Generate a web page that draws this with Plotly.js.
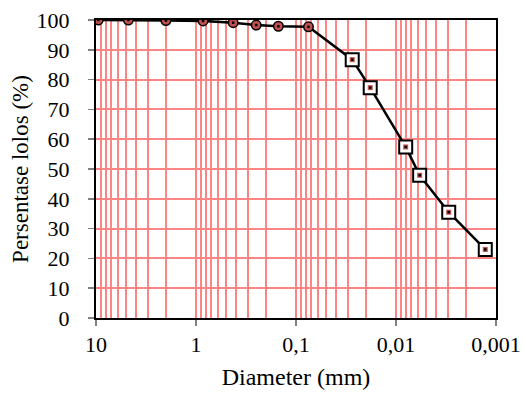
<!DOCTYPE html>
<html>
<head>
<meta charset="utf-8">
<script src="https://cdn.plot.ly/plotly-3.0.1.min.js"></script>
<style>html,body{margin:0;padding:0;background:#fff;}#chart{width:524px;height:394px;}</style>
</head>
<body>
<div id="chart"></div>
<script>
// Sieve analysis (diameter mm, % passing)
const sieveDiameter = [9.5, 4.75, 2.0, 0.85, 0.425, 0.25, 0.15, 0.075];
const sievePassing  = [100, 100, 99.8, 99.7, 99.1, 98.3, 97.9, 97.7];
// Hydrometer analysis
const hydroDiameter = [0.0274, 0.0181, 0.0080, 0.0058, 0.00297, 0.00128];
const hydroPassing  = [86.7, 77.3, 57.4, 47.9, 35.5, 23.0];
// Axis ticks
const xTickVals = [10, 1, 0.1, 0.01, 0.001];
const xTickText = ['10', '1', '0,1', '0,01', '0,001'];
const yTickVals = [0, 10, 20, 30, 40, 50, 60, 70, 80, 90, 100];

const minorVals = [];
[1, 0.1, 0.01, 0.001].forEach(function (d) {
  for (let k = 2; k <= 9; k++) minorVals.push(+(k * d).toPrecision(3));
});

const allX = sieveDiameter.concat(hydroDiameter);
const allY = sievePassing.concat(hydroPassing);

const gridColor = '#ff8585';
const font = 'Liberation Serif, Times New Roman, serif';

const traces = [
  { x: allX, y: allY, mode: 'lines', line: { color: '#000', width: 2.5 }, hoverinfo: 'skip', showlegend: false },
  { x: hydroDiameter, y: hydroPassing, mode: 'markers', showlegend: false,
    marker: { symbol: 'square', size: 13, color: '#fff', line: { color: '#000', width: 2 } } },
  { x: hydroDiameter, y: hydroPassing, mode: 'markers', showlegend: false,
    marker: { symbol: 'square', size: 5, color: '#c0504d', line: { width: 0 } } },
  { x: sieveDiameter, y: sievePassing, mode: 'markers', showlegend: false,
    marker: { symbol: 'circle', size: 9.5, color: '#c0504d', line: { color: '#000', width: 1.5 } } },
  { x: allX, y: allY, mode: 'markers', showlegend: false,
    marker: { symbol: 'square', size: 2.5, color: '#000', line: { width: 0 } } }
];

const layout = {
  width: 524, height: 394,
  margin: { l: 96, r: 28, t: 20, b: 76 },
  paper_bgcolor: '#fff', plot_bgcolor: '#fff',
  font: { family: font, color: '#000', size: 22 },
  xaxis: {
    type: 'log', range: [1, -3],
    tickmode: 'array', tickvals: xTickVals, ticktext: xTickText,
    ticks: 'outside', ticklen: 6, tickcolor: '#808080', tickwidth: 1.5,
    showgrid: true, gridcolor: gridColor, gridwidth: 2,
    minor: { tickmode: 'array', tickvals: minorVals, showgrid: true, gridcolor: gridColor, gridwidth: 2, ticks: '' },
    showline: true, linecolor: '#000', linewidth: 2, mirror: true,
    zeroline: false,
    tickfont: { family: font, size: 22 },
    title: { text: 'Diameter (mm)', font: { family: font, size: 24 }, standoff: 12 }
  },
  yaxis: {
    range: [0, 100],
    tickmode: 'array', tickvals: yTickVals,
    ticks: 'outside', ticklen: 6, tickcolor: '#808080', tickwidth: 1.5,
    ticklabelstandoff: 14,
    showgrid: true, gridcolor: gridColor, gridwidth: 2,
    showline: true, linecolor: '#000', linewidth: 2, mirror: true,
    zeroline: false,
    tickfont: { family: font, size: 22 },
    title: { text: 'Persentase lolos (%)', font: { family: font, size: 23 }, standoff: 2 }
  }
};

Plotly.newPlot('chart', traces, layout, { displayModeBar: false, staticPlot: true });
</script>
</body>
</html>
